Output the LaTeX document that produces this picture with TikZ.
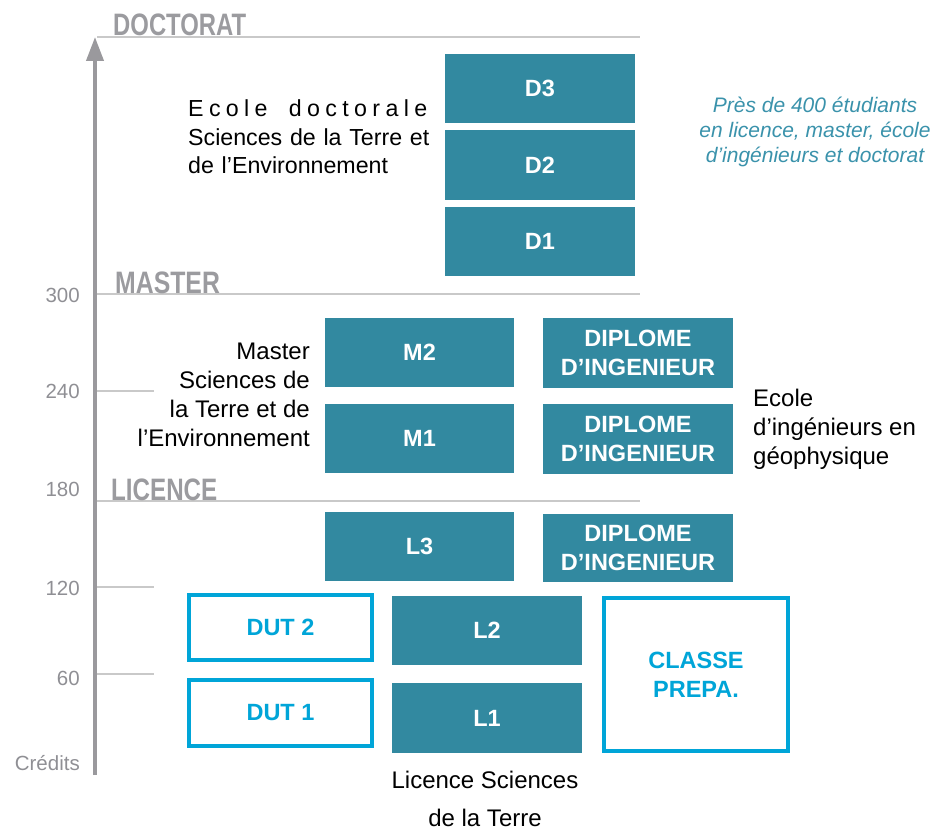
\documentclass[tikz,border=0pt]{standalone}
\usepackage{fontspec}
\usepackage{graphicx}
\setmainfont{Liberation Sans}
\usetikzlibrary{arrows.meta}

\definecolor{teal}{HTML}{3289A0}
\definecolor{cyanline}{HTML}{00A5D8}
\definecolor{headgray}{HTML}{9B9B9F}
\definecolor{axisgray}{HTML}{9A999D}
\definecolor{rulegray}{HTML}{C9C9C9}
\definecolor{tickgray}{HTML}{8F8F94}
\definecolor{notecolor}{HTML}{3A92AB}

\tikzset{
  yearbox/.style={fill=teal, text=white, inner sep=0pt,
    font=\fontsize{23.5}{29}\selectfont\bfseries, align=center},
  openbox/.style={draw=cyanline, line width=4pt, fill=white, text=cyanline,
    inner sep=0pt, font=\fontsize{23.5}{29}\selectfont\bfseries, align=center},
  levelrule/.style={draw=rulegray, line width=1.5pt},
  levelname/.style={anchor=base west, inner sep=0pt, text=headgray,
    font=\fontsize{31}{31}\selectfont\bfseries},
  credit/.style={anchor=base east, inner sep=0pt, text=tickgray,
    font=\fontsize{20.5}{21}\selectfont},
  caption/.style={inner sep=0pt, font=\fontsize{24}{29}\selectfont}
}

\begin{document}
\begin{tikzpicture}[x=1pt,y=-1pt]
\useasboundingbox (0,0) rectangle (934,832);

% level rules and credit ticks
\coordinate (docL) at (97,37);   \coordinate (docR) at (640,37);
\coordinate (masL) at (97,294);  \coordinate (masR) at (640,294);
\coordinate (licL) at (97,501);  \coordinate (licR) at (640,501);
\coordinate (t240L) at (97,391); \coordinate (t240R) at (154,391);
\coordinate (t120L) at (97,587); \coordinate (t120R) at (154,587);
\coordinate (t60L) at (97,674);  \coordinate (t60R) at (154,674);
\draw[levelrule] (docL) -- (docR);
\draw[levelrule] (masL) -- (masR);
\draw[levelrule] (licL) -- (licR);
\draw[levelrule] (t240L) -- (t240R);
\draw[levelrule] (t120L) -- (t120R);
\draw[levelrule] (t60L) -- (t60R);

% credit axis
\coordinate (axbot) at (95,775);
\coordinate (axtop) at (95,37);
\draw[axisgray, line width=4pt, -{Triangle[length=24pt,width=17pt]}] (axbot) -- (axtop);

% level names
\node[levelname] (hdoc) at (113,35.5) {\scalebox{0.77}[1]{DOCTORAT}};
\node[levelname] (hmas) at (115,293) {\scalebox{0.80}[1]{MASTER}};
\node[levelname] (hlic) at (111,500) {\scalebox{0.78}[1]{LICENCE}};

% credit labels
\node[credit] (c300) at (80,302) {300};
\node[credit] (c240) at (80,398) {240};
\node[credit] (c180) at (80,496) {180};
\node[credit] (c120) at (80,595) {120};
\node[credit] (c60)  at (80,685) {60};
\node[credit] (ccr)  at (80,770) {Crédits};

% doctorate
\node[yearbox, minimum width=190pt, minimum height=69pt] (d3) at (540,88.5) {D3};
\node[yearbox, minimum width=190pt, minimum height=69pt] (d2) at (540,165) {D2};
\node[yearbox, minimum width=190pt, minimum height=69pt] (d1) at (540,241) {D1};

% master
\node[yearbox, minimum width=189pt, minimum height=69pt] (m2) at (419.5,352.5) {M2};
\node[yearbox, minimum width=189pt, minimum height=69pt] (m1) at (419.5,438.5) {M1};

% engineering school
\node[yearbox, minimum width=190pt, minimum height=70pt] (ing3) at (638,353) {DIPLOME\\D’INGENIEUR};
\node[yearbox, minimum width=190pt, minimum height=70pt] (ing2) at (638,439) {DIPLOME\\D’INGENIEUR};
\node[yearbox, minimum width=190pt, minimum height=68pt] (ing1) at (638,548) {DIPLOME\\D’INGENIEUR};

% licence
\node[yearbox, minimum width=189pt, minimum height=69pt] (l3) at (419.5,546.5) {L3};
\node[yearbox, minimum width=190pt, minimum height=69pt] (l2) at (487,630.5) {L2};
\node[yearbox, minimum width=190pt, minimum height=70pt] (l1) at (487,718) {L1};

% other tracks
\node[openbox, minimum width=183pt, minimum height=65pt] (dut2) at (280.5,627.5) {DUT 2};
\node[openbox, minimum width=183pt, minimum height=66pt] (dut1) at (280.5,713) {DUT 1};
\node[openbox, minimum width=184pt, minimum height=153pt] (prepa) at (696,674.5) {CLASSE\\PREPA.};

% captions
\node[caption, anchor=west, text width=239pt, align=left,
      font=\fontsize{23.2}{28.5}\selectfont] (edoc) at (188,137)
  {\makebox[239pt][s]{E\hfill c\hfill o\hfill l\hfill e\hfill\hfill\hfill\hfill d\hfill o\hfill c\hfill t\hfill o\hfill r\hfill a\hfill l\hfill e}\\
   \makebox[239pt][s]{Sciences de la Terre et}\\
   de l’Environnement};
\node[caption, anchor=east, align=right] (mcap) at (310,395)
  {Master\\Sciences de\\la Terre et de\\l’Environnement};
\node[caption, anchor=west, align=left] (icap) at (753,429)
  {Ecole\\d’ingénieurs en\\géophysique};
\node[caption, align=center, font=\fontsize{24}{38}\selectfont] (lcap) at (485,799)
  {Licence Sciences\\de la Terre};
\node[inner sep=0pt, align=center, text=notecolor,
      font=\fontsize{21}{25}\selectfont\itshape] (note) at (815,132)
  {Près de 400 étudiants\\en licence, master, école\\d’ingénieurs et doctorat};
\end{tikzpicture}
\end{document}
